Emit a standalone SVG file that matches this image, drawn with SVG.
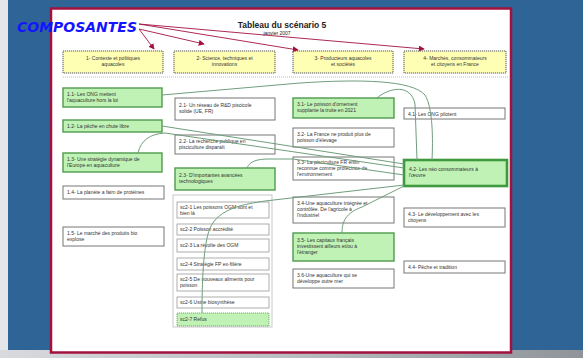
<svg xmlns="http://www.w3.org/2000/svg" width="583" height="358" viewBox="0 0 583 358">
<defs>
<linearGradient id="gl" x1="0" y1="0" x2="1" y2="0">
<stop offset="0" stop-color="#e4e6e9"/><stop offset="1" stop-color="#a9b0b8"/>
</linearGradient>
<linearGradient id="gb" x1="0" y1="0" x2="1" y2="0">
<stop offset="0" stop-color="#d8dadd"/><stop offset="0.5" stop-color="#b9bcc0"/><stop offset="1" stop-color="#8f949a"/>
</linearGradient>
<marker id="ar" viewBox="0 0 8 8" refX="7" refY="4" markerWidth="6" markerHeight="6" orient="auto" markerUnits="userSpaceOnUse">
<path d="M0,0 L8,4 L0,8 z" fill="#a3123f"/>
</marker>
<style>
text{font-family:"Liberation Sans",Arial,sans-serif;fill:#333;}
.t{font-size:5px;}
.tc{font-size:5px;text-anchor:middle;}
.hd rect{fill:#ffffb4;stroke:#555;stroke-width:1;stroke-dasharray:1.2 0.8;}
.g rect{fill:#bff2b4;stroke:#4f9a4f;stroke-width:1.4;}
.w rect{fill:#fff;stroke:#777;stroke-width:1;}
.s rect{fill:#fff;stroke:#999;stroke-width:0.8;}
.conn path{fill:none;stroke:#6f9e7c;stroke-width:1;}
.arr path{fill:none;stroke:#a3123f;stroke-width:0.9;marker-end:url(#ar);}
</style>
</defs>
<rect x="0" y="0" width="583" height="358" fill="url(#gl)"/>
<rect x="0" y="350" width="583" height="8" fill="url(#gb)"/>
<rect x="8" y="0" width="575" height="350" fill="#2f6496"/>
<rect x="51" y="8.5" width="460" height="344" fill="#fff" stroke="#a3123f" stroke-width="2.5"/>

<text x="282" y="28" style="font-size:8.5px;font-weight:bold;text-anchor:middle;fill:#222">Tableau du scénario 5</text>
<text x="277" y="35" style="font-size:5px;text-anchor:middle;fill:#222">janvier 2007</text>

<line x1="63" y1="77" x2="508" y2="77" stroke="#aaa" stroke-width="0.8" stroke-dasharray="1 1"/>

<g id="h1" class="hd"><rect x="63" y="51" width="100" height="22"/><text class="tc" x="113" y="60">1- Contexte et politiques</text><text class="tc" x="113" y="66">aquacoles</text></g>
<g id="h2" class="hd"><rect x="174" y="51" width="101" height="22"/><text class="tc" x="224.5" y="60">2- Science, techniques  et</text><text class="tc" x="224.5" y="66">innovations</text></g>
<g id="h3" class="hd"><rect x="293" y="51" width="100" height="22"/><text class="tc" x="343" y="60">3- Producteurs aquacoles</text><text class="tc" x="343" y="66">et sociétés</text></g>
<g id="h4" class="hd"><rect x="404" y="51" width="102" height="22"/><text class="tc" x="455" y="60">4- Marchés, consommateurs</text><text class="tc" x="455" y="66">et citoyens en France</text></g>

<g id="n11" class="g"><rect x="63" y="88" width="99" height="19"/><text class="t" x="67" y="96">1.1- Les ONG mettent</text><text class="t" x="67" y="102">l'aquaculture hors la loi</text></g>
<g id="n12" class="g"><rect x="63" y="120" width="99" height="12"/><text class="t" x="67" y="128">1.2- La pêche en chute libre</text></g>
<g id="n13" class="g"><rect x="63" y="153" width="99" height="19"/><text class="t" x="67" y="161">1.3- Une stratégie dynamique de</text><text class="t" x="67" y="167">l'Europe en aquaculture</text></g>
<g id="n14" class="w"><rect x="63" y="186" width="101" height="13"/><text class="t" x="67" y="194">1.4- La planète a faim de protéines</text></g>
<g id="n15" class="w"><rect x="63" y="227" width="101" height="19"/><text class="t" x="67" y="235">1.5- Le marché des produits bio</text><text class="t" x="67" y="241">explose</text></g>

<g id="n21" class="w"><rect x="175" y="98" width="100" height="22"/><text class="t" x="179" y="107">2.1- Un réseau de R&amp;D piscicole</text><text class="t" x="179" y="113">solide (UE, FR)</text></g>
<g id="n22" class="w"><rect x="175" y="135" width="100" height="19"/><text class="t" x="179" y="143">2.2- La recherche publique en</text><text class="t" x="179" y="149">pisciculture disparaît</text></g>
<g id="n23" class="g"><rect x="175" y="168" width="100" height="22"/><text class="t" x="179" y="177">2.3- D'importantes avancées</text><text class="t" x="179" y="183">technologiques</text></g>

<g id="sc2" class="s">
<rect x="173" y="195" width="99" height="132" style="stroke:#bbb"/>
</g>
<g id="sc21" class="s"><rect x="177" y="202" width="92" height="16"/><text class="t" x="180" y="209">sc2-1 Les poissons OGM sont et</text><text class="t" x="180" y="215">bien là</text></g>
<g id="sc22" class="s"><rect x="177" y="224" width="92" height="11"/><text class="t" x="180" y="231">sc2-2 Poisson accrédité</text></g>
<g id="sc23" class="s"><rect x="177" y="239" width="92" height="13"/><text class="t" x="180" y="247">sc2-3 La révolte des OGM</text></g>
<g id="sc24" class="s"><rect x="177" y="258" width="92" height="12"/><text class="t" x="180" y="265.5">sc2-4 Stratégie FP ex-filière</text></g>
<g id="sc25" class="s"><rect x="177" y="274" width="92" height="17"/><text class="t" x="180" y="281">sc2-5 De nouveaux aliments pour</text><text class="t" x="180" y="287">poisson</text></g>
<g id="sc26" class="s"><rect x="177" y="297" width="92" height="11"/><text class="t" x="180" y="304">sc2-6 Usine biosynthèse</text></g>
<g id="sc27"><rect x="177" y="313" width="92" height="13" fill="#bff2b4" stroke="#5a9a5a" stroke-width="0.8" stroke-dasharray="1.2 0.8"/><text class="t" x="180" y="321">sc2-7 Refus</text></g>

<g id="n31" class="g"><rect x="293" y="98" width="101" height="20"/><text class="t" x="297" y="106">3.1- Le poisson d'ornement</text><text class="t" x="297" y="112">supplante la truite en 2021</text></g>
<g id="n32" class="w"><rect x="293" y="128" width="101" height="19"/><text class="t" x="297" y="136">3.2- La France ne produit plus de</text><text class="t" x="297" y="142">poisson d'élevage</text></g>
<g id="n33" class="w"><rect x="293" y="157" width="101" height="23"/><text class="t" x="297" y="164">3.3- La pisciculture FR enfin</text><text class="t" x="297" y="170">reconnue comme protectrice de</text><text class="t" x="297" y="176">l'environnement</text></g>
<g id="n34" class="w"><rect x="293" y="197" width="101" height="26"/><text class="t" x="297" y="205">3.4-Une aquaculture intégrée et</text><text class="t" x="297" y="211">contrôlée. De l'agricole à</text><text class="t" x="297" y="217">l'industriel</text></g>
<g id="n35" class="g"><rect x="293" y="233" width="101" height="28"/><text class="t" x="297" y="242">3.5- Les capitaux français</text><text class="t" x="297" y="248">investissent ailleurs et/ou à</text><text class="t" x="297" y="254">l'étranger</text></g>
<g id="n36" class="w"><rect x="293" y="269" width="101" height="19"/><text class="t" x="297" y="277">3.6-Une aquaculture qui se</text><text class="t" x="297" y="283">développe outre mer</text></g>

<g id="n41" class="w"><rect x="404" y="108" width="101" height="11"/><text class="t" x="408" y="115.5">4.1- Les ONG pilotent</text></g>
<g id="n42" class="g"><rect x="404" y="160" width="103" height="26" style="stroke-width:2.6;stroke:#3f9a3f"/><text class="t" x="409" y="171">4.2- Les néo consommateurs à</text><text class="t" x="409" y="177">l'œuvre</text></g>
<g id="n43" class="w"><rect x="404" y="208" width="101" height="19"/><text class="t" x="408" y="216">4.3- Le développement avec les</text><text class="t" x="408" y="222">citoyens</text></g>
<g id="n44" class="w"><rect x="404" y="261" width="101" height="12"/><text class="t" x="408" y="269">4.4- Pêche et tradition</text></g>

<g id="connectors" class="conn">
<path d="M162,95 L300,83 C360,79 412,80 425,95 C433,108 433,140 432,160"/>
<path d="M377,98 C390,87 411,84 415,104 L417,160"/>
<path d="M162,126 L404,164"/>
<path d="M138,153 C141,140 150,134 165,133 L404,168"/>
<path d="M247,168 C250,161 257,159 270,159 L293,159 L404,175"/>
<path d="M202,313 C202,285 203,245 210,228 C219,208 245,204 265,201 L404,185"/>
<path d="M342,233 C342,221 346,213 362,207 L404,186"/>
</g>

<g id="composantes">
<text x="17" y="32" textLength="120" lengthAdjust="spacingAndGlyphs" style="font-family:'DejaVu Sans',sans-serif;font-size:14px;font-weight:bold;font-style:italic;fill:#1414ff">COMPOSANTES</text>
</g>
<g id="arrows" class="arr">
<path d="M139,29 L154,49"/>
<path d="M139,29 L204,44"/>
<path d="M139,24 L298,50"/>
<path d="M139,24 L424,49"/>
</g>
</svg>
